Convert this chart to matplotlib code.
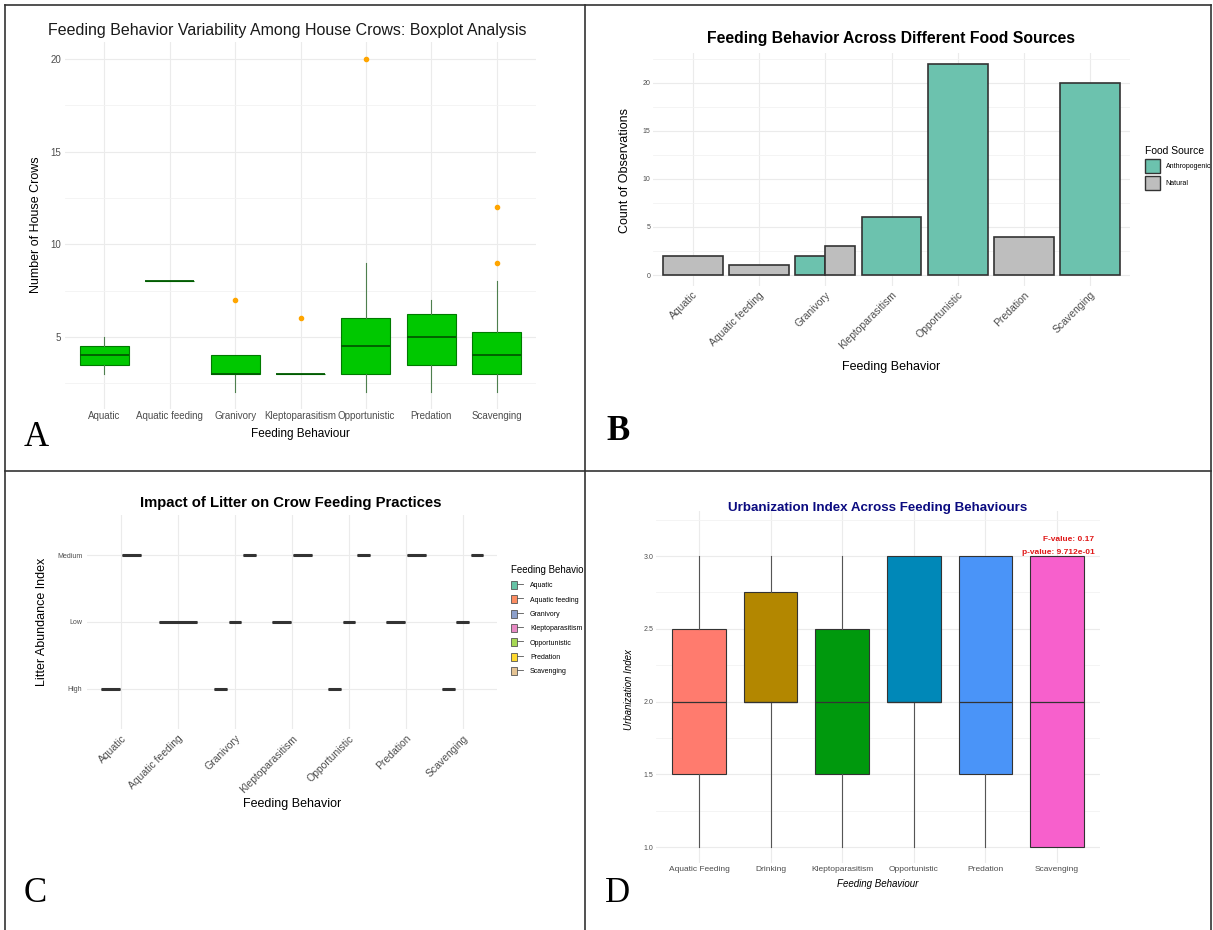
import matplotlib
matplotlib.use("Agg")
import matplotlib.pyplot as plt
from matplotlib.lines import Line2D
from matplotlib.patches import Patch
from matplotlib.ticker import MultipleLocator
from matplotlib.transforms import Bbox, TransformedBbox
from matplotlib.legend_handler import HandlerTuple

plt.rcParams['font.family'] = ['Liberation Sans', 'DejaVu Sans']

W, H = 1213, 930

# ---- Panel A: boxplot of crow counts ----
a_cats = ["Aquatic", "Aquatic feeding", "Granivory", "Kleptoparasitism",
          "Opportunistic", "Predation", "Scavenging"]
a_whislo = [3, 8, 2, 3, 2, 2, 2]
a_q1 = [3.5, 8, 3, 3, 3, 3.5, 3]
a_med = [4, 8, 3, 3, 4.5, 5, 4]
a_q3 = [4.5, 8, 4, 3, 6, 6.25, 5.25]
a_whishi = [5, 8, 4, 3, 9, 7, 8]
a_fliers = [[], [], [7], [6], [20], [], [9, 12]]

# ---- Panel B: counts by food source ----
b_cats = a_cats
b_sources = ["Anthropogenic", "Natural"]
b_anthro = [0, 0, 2, 6, 22, 0, 20]
b_natural = [2, 1, 3, 0, 0, 4, 0]

# ---- Panel C: litter abundance per behaviour ----
c_cats = a_cats
c_levels = ["High", "Low", "Medium"]
c_present = [["High", "Medium"], ["Low"], ["High", "Low", "Medium"],
             ["Low", "Medium"], ["High", "Low", "Medium"],
             ["Low", "Medium"], ["High", "Low", "Medium"]]
c_legend = ["Aquatic", "Aquatic feeding", "Granivory", "Kleptoparasitism",
            "Opportunistic", "Predation", "Scavenging"]

# ---- Panel D: urbanization index ----
d_cats = ["Aquatic Feeding", "Drinking", "Kleptoparasitism", "Opportunistic",
          "Predation", "Scavenging"]
d_whislo = [1, 1, 1, 1, 1, 1]
d_q1 = [1.5, 2, 1.5, 2, 1.5, 1]
d_med = [2, 2, 2, 2, 2, 2]
d_q3 = [2.5, 2.75, 2.5, 3, 3, 3]
d_whishi = [3, 3, 3, 3, 3, 3]
d_fvalue = "F-value: 0.17"
d_pvalue = "p-value: 9.712e-01"

set2 = ['#66C2A5', '#FC8D62', '#8DA0CB', '#E78AC3', '#A6D854', '#FFD92F', '#E5C494']
d_colors = ['#FF7B6E', '#B38700', '#00990D', '#0088B8', '#4A94F8', '#F760CC']
grey_txt = '#4D4D4D'

fig = plt.figure(figsize=(W / 100, H / 100), dpi=100)


def rect(x0, y0, x1, y1):
    return [x0 / W, 1 - y1 / H, (x1 - x0) / W, (y1 - y0) / H]


def fx(x, y):
    return x / W, 1 - y / H


def minimal(ax, minor_y=None):
    for s in ax.spines.values():
        s.set_visible(False)
    ax.tick_params(which='both', length=0, colors=grey_txt)
    ax.grid(True, which='major', color='#EBEBEB', lw=0.8)
    if minor_y:
        ax.yaxis.set_minor_locator(MultipleLocator(minor_y))
        ax.grid(True, which='minor', axis='y', color='#F3F3F3', lw=0.6)
    ax.set_axisbelow(True)


def stats_list(lo, q1, med, q3, hi, fl=None):
    out = []
    for i in range(len(med)):
        out.append(dict(whislo=lo[i], q1=q1[i], med=med[i], q3=q3[i],
                        whishi=hi[i], fliers=fl[i] if fl else []))
    return out


# ================= A =================
axA = fig.add_axes(rect(65, 42.5, 536, 409))
minimal(axA, minor_y=2.5)
posA = list(range(1, len(a_cats) + 1))
axA.bxp(stats_list(a_whislo, a_q1, a_med, a_q3, a_whishi, a_fliers),
        positions=posA, widths=0.75, patch_artist=True, showcaps=False,
        boxprops=dict(facecolor='#00C800', edgecolor='#007A00', lw=0.8),
        medianprops=dict(color='#005A00', lw=1.3),
        whiskerprops=dict(color='#4E7F4E', lw=0.8),
        flierprops=dict(marker='o', markerfacecolor='#FFA500',
                        markeredgecolor='#FFA500', markersize=3))
axA.set_xlim(0.4, 7.6)
axA.set_ylim(1.1, 20.9)
axA.set_xticks(posA)
axA.set_xticklabels(a_cats, fontsize=7)
axA.set_yticks([5, 10, 15, 20])
axA.tick_params(axis='y', labelsize=7, pad=3)
axA.tick_params(axis='x', pad=1.5)
axA.set_xlabel("Feeding Behaviour", fontsize=8.5)
axA.xaxis.set_label_coords(*fx(300, 428), transform=fig.transFigure)
axA.set_ylabel("Number of House Crows", fontsize=9)
axA.yaxis.set_label_coords(*fx(42, 225), transform=fig.transFigure)
fig.text(*fx(287, 31), "Feeding Behavior Variability Among House Crows: Boxplot Analysis",
         ha='center', va='center', fontsize=11.5, color='#1A1A1A')

# ================= B =================
axB = fig.add_axes(rect(653, 53, 1130, 285.6))
minimal(axB, minor_y=2.5)
b_cols = {"Anthropogenic": '#6CC2AE', "Natural": '#BEBEBE'}
for i, cat in enumerate(b_cats):
    vals = [("Anthropogenic", b_anthro[i]), ("Natural", b_natural[i])]
    vals = [v for v in vals if v[1] > 0]
    n = len(vals)
    w = 0.9 / n
    for k, (src, v) in enumerate(vals):
        xpos = i + 1 - 0.45 + (k + 0.5) * w
        axB.bar(xpos, v, width=w, color=b_cols[src], edgecolor='#333333', lw=1.2)
axB.set_xlim(0.4, 7.6)
axB.set_ylim(-1.1, 23.1)
axB.set_xticks(range(1, 8))
axB.set_xticklabels(b_cats, fontsize=7.5, rotation=45, ha='right',
                    rotation_mode='anchor')
axB.set_yticks([0, 5, 10, 15, 20])
axB.tick_params(axis='y', labelsize=5, pad=2)
axB.tick_params(axis='x', pad=3)
axB.set_xlabel("Feeding Behavior", fontsize=9)
axB.xaxis.set_label_coords(*fx(891, 361), transform=fig.transFigure)
axB.set_ylabel("Count of Observations", fontsize=9)
axB.yaxis.set_label_coords(*fx(631, 170), transform=fig.transFigure)
fig.text(*fx(891, 39), "Feeding Behavior Across Different Food Sources",
         ha='center', va='center', fontsize=11.3, fontweight='bold')
hB = [Patch(facecolor=b_cols[s], edgecolor='#333333', lw=1.0) for s in b_sources]
legB = axB.legend(hB, b_sources, title="Food Source", fontsize=5, title_fontsize=7.5,
                  loc='upper left', bbox_to_anchor=fx(1145, 146),
                  bbox_transform=fig.transFigure, frameon=False, borderpad=0,
                  borderaxespad=0, handlelength=2.2, handleheight=2.6,
                  labelspacing=0.5, handletextpad=0.8, alignment='left')

# ================= C =================
axC = fig.add_axes(rect(87, 515, 497, 729))
minimal(axC)
for i, cat in enumerate(c_cats):
    groups = c_present[i]
    n = len(groups)
    slot = 0.75 / n
    st, pos = [], []
    for k, lev in enumerate(groups):
        v = c_levels.index(lev) + 1
        st.append(dict(whislo=v, q1=v, med=v, q3=v, whishi=v, fliers=[]))
        pos.append(i + 1 - 0.375 + (k + 0.5) * slot)
    axC.bxp(st, positions=pos, widths=slot * 0.9, patch_artist=True,
            showcaps=False,
            boxprops=dict(facecolor=set2[i], edgecolor='#333333', lw=1.0),
            medianprops=dict(color='#333333', lw=2.2),
            whiskerprops=dict(color='#333333', lw=0.8))
axC.set_xlim(0.4, 7.6)
axC.set_ylim(0.4, 3.6)
axC.set_xticks(range(1, 8))
axC.set_xticklabels(c_cats, fontsize=7.5, rotation=45, ha='right',
                    rotation_mode='anchor')
axC.set_yticks([1, 2, 3])
axC.set_yticklabels(c_levels)
axC.tick_params(axis='y', labelsize=5, pad=3.5)
axC.tick_params(axis='x', pad=3)
axC.set_xlabel("Feeding Behavior", fontsize=9)
axC.xaxis.set_label_coords(*fx(292, 798), transform=fig.transFigure)
axC.set_ylabel("Litter Abundance Index", fontsize=9)
axC.yaxis.set_label_coords(*fx(48, 622), transform=fig.transFigure)
fig.text(*fx(291, 503), "Impact of Litter on Crow Feeding Practices",
         ha='center', va='center', fontsize=10.7, fontweight='bold')
hC = [(Patch(facecolor=c, edgecolor='#555555', lw=0.6),
       Line2D([], [], color='#555555', lw=0.6)) for c in set2]
legC = axC.legend(hC, c_legend, title="Feeding Behavior", fontsize=5, title_fontsize=7,
                  loc='upper left', bbox_to_anchor=fx(511, 565),
                  bbox_transform=fig.transFigure, frameon=False, borderpad=0,
                  borderaxespad=0, handlelength=1.75, handleheight=1.45,
                  labelspacing=0.85, handletextpad=1.0, alignment='left',
                  handler_map={tuple: HandlerTuple(ndivide=None)})
clipC = TransformedBbox(Bbox([[0, 0], [584 / W, 1]]), fig.transFigure)
for t in legC.get_texts() + [legC.get_title()]:
    t.set_clip_box(clipC)
    t.set_clip_on(True)

# ================= D =================
axD = fig.add_axes(rect(656, 511, 1100, 863))
minimal(axD, minor_y=0.25)
posD = list(range(1, len(d_cats) + 1))
bpD = axD.bxp(stats_list(d_whislo, d_q1, d_med, d_q3, d_whishi),
              positions=posD, widths=0.75, patch_artist=True, showcaps=False,
              boxprops=dict(edgecolor='#333333', lw=0.8),
              medianprops=dict(color='#333333', lw=0.9),
              whiskerprops=dict(color='#555555', lw=0.8))
for patch, c in zip(bpD['boxes'], d_colors):
    patch.set_facecolor(c)
axD.set_xlim(0.4, 6.6)
axD.set_ylim(0.89, 3.31)
axD.set_yticks([1.0, 1.5, 2.0, 2.5, 3.0])
axD.set_yticklabels(["1.0", "1.5", "2.0", "2.5", "3.0"])
axD.set_xticks(posD)
axD.set_xticklabels(d_cats, fontsize=6)
axD.tick_params(axis='y', labelsize=5, pad=2)
axD.tick_params(axis='x', pad=2)
axD.set_xlabel("Feeding Behaviour", fontsize=7, style='italic')
axD.xaxis.set_label_coords(*fx(878, 879), transform=fig.transFigure)
axD.set_ylabel("Urbanization Index", fontsize=7, style='italic')
axD.yaxis.set_label_coords(*fx(634, 690), transform=fig.transFigure)
axD.text(6.52, 3.115, d_fvalue, ha='right', va='center', fontsize=6,
         fontweight='bold', color='#E01818')
axD.text(6.52, 3.025, d_pvalue, ha='right', va='center', fontsize=6,
         fontweight='bold', color='#E01818')
fig.text(*fx(878, 508), "Urbanization Index Across Feeding Behaviours",
         ha='center', va='center', fontsize=9.6, fontweight='bold', color='#0B0B80')

# ---- panel letters ----
fig.text(*fx(24, 446), "A", fontsize=25, family='Liberation Serif', va='baseline')
fig.text(*fx(606, 440), "B", fontsize=25, family='Liberation Serif',
         fontweight='bold', va='baseline')
fig.text(*fx(24, 902), "C", fontsize=25, family='Liberation Serif', va='baseline')
fig.text(*fx(605, 902), "D", fontsize=25, family='Liberation Serif', va='baseline')

# ---- panel frame lines ----
frame = [((4.5, 5), (1211, 5)), ((4.5, 5), (4.5, 930)), ((1211, 5), (1211, 930)),
         ((585, 5), (585, 930)), ((4.5, 471), (1211, 471))]
for (x0, y0), (x1, y1) in frame:
    fig.add_artist(Line2D([x0 / W, x1 / W], [1 - y0 / H, 1 - y1 / H],
                          transform=fig.transFigure, color='#333333', lw=1.2))

fig.savefig("out.png", dpi=100)
